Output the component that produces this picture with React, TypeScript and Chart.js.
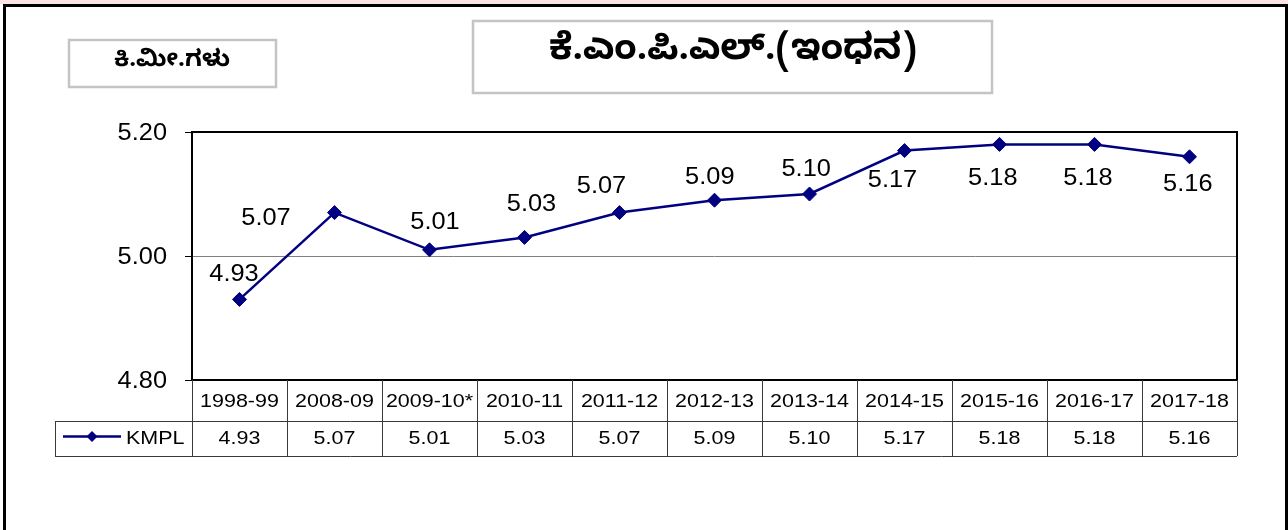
import React, { useEffect, useRef } from "react";
import { Chart, registerables } from "chart.js";

Chart.register(...registerables);

// ---- data ----
const categories = [
  "1998-99", "2008-09", "2009-10*", "2010-11", "2011-12", "2012-13",
  "2013-14", "2014-15", "2015-16", "2016-17", "2017-18",
];
const kmplValues = [4.93, 5.07, 5.01, 5.03, 5.07, 5.09, 5.1, 5.17, 5.18, 5.18, 5.16];
const seriesName = "KMPL";
const yMin = 4.8;
const yMax = 5.2;
const yStep = 0.2;
const titleText = "ಕೆ.ಎಂ.ಪಿ.ಎಲ್.(ಇಂಧನ)";
const unitText = "ಕಿ.ಮೀ.ಗಳು";
// manual data-label placement (px offset from each point), as in the original
const labelOffsets: number[][] = [
  [-5.5, -24.5], [-68.5, 5.5], [5.5, -27], [7, -33], [-18, -26], [-4.7, -23],
  [-3.3, -24.7], [-12, 29.7], [-6.7, 33.7], [-6.5, 33.8], [-1.7, 27.3],
];

// ---- style ----
const NAVY = "#000080";
const FONT = '"Liberation Sans", Arial, Helvetica, sans-serif';
const KN_FONT = '"Noto Sans Kannada", "Noto Serif Kannada", "Lohit Kannada", Tunga, "Noto Sans", sans-serif';
const W = 1288;
const H = 530;

function drawText(
  ctx: CanvasRenderingContext2D, text: string, x: number, y: number,
  size: number, sx: number, align: CanvasTextAlign = "center",
  weight = "normal", family = FONT
) {
  ctx.save();
  ctx.translate(x, y);
  ctx.scale(sx, 1);
  ctx.font = `${weight} ${size}px ${family}`;
  ctx.textAlign = align;
  ctx.textBaseline = "middle";
  ctx.fillStyle = "#000";
  ctx.fillText(text, 0, 0);
  ctx.restore();
}

function diamond(ctx: CanvasRenderingContext2D, x: number, y: number, r: number) {
  ctx.beginPath();
  ctx.moveTo(x - r, y);
  ctx.lineTo(x, y - r);
  ctx.lineTo(x + r, y);
  ctx.lineTo(x, y + r);
  ctx.closePath();
  ctx.fillStyle = NAVY;
  ctx.fill();
}

const decorPlugin = {
  id: "decor",
  beforeDraw(chart: any) {
    const ctx: CanvasRenderingContext2D = chart.ctx;
    ctx.save();
    ctx.fillStyle = "#ffffff";
    ctx.fillRect(0, 0, W, H);
    ctx.fillStyle = "#fce4e4";
    ctx.fillRect(0, 0, W, 4);
    // outer frame
    ctx.strokeStyle = "#000";
    ctx.lineWidth = 3;
    ctx.strokeRect(4.5, 5.5, W - 6, H + 50);
    // title box
    ctx.strokeStyle = "#c4c4c4";
    ctx.lineWidth = 2.5;
    ctx.strokeRect(473, 21, 519, 72);
    drawText(ctx, titleText, 733, 55, 36, 1.02, "center", "bold", KN_FONT);
    // unit box
    ctx.strokeRect(69, 40, 207, 47);
    drawText(ctx, unitText, 172, 64, 23, 1.05, "center", "bold", KN_FONT);
    ctx.restore();
  },
  beforeDatasetsDraw(chart: any) {
    const ctx: CanvasRenderingContext2D = chart.ctx;
    const a = chart.chartArea;
    ctx.save();
    ctx.strokeStyle = "#000";
    ctx.lineWidth = 2;
    ctx.strokeRect(a.left, a.top, a.right - a.left, a.bottom - a.top);
    ctx.restore();
  },
  afterDatasetsDraw(chart: any) {
    const ctx: CanvasRenderingContext2D = chart.ctx;
    const meta = chart.getDatasetMeta(0);
    meta.data.forEach((pt: any, i: number) => {
      const off = labelOffsets[i] || [0, -24];
      drawText(ctx, kmplValues[i].toFixed(2), pt.x + off[0], pt.y + off[1], 23.5, 1.08);
    });
  },
  afterDraw(chart: any) {
    const ctx: CanvasRenderingContext2D = chart.ctx;
    const a = chart.chartArea;
    const xs = chart.scales.x;
    const ys = chart.scales.y;
    // y tick labels
    ys.ticks.forEach((t: any) => {
      const y = ys.getPixelForValue(t.value);
      drawText(ctx, Number(t.value).toFixed(2), a.left - 25, y + 1.5, 23.5, 1.08, "right");
    });
    // data table
    const top = a.bottom;
    const mid = top + 41;
    const bot = mid + 35;
    const legendLeft = 55;
    const bounds: number[] = [a.left];
    for (let i = 0; i < categories.length - 1; i++) {
      bounds.push((xs.getPixelForValue(i) + xs.getPixelForValue(i + 1)) / 2);
    }
    bounds.push(a.right);
    ctx.save();
    ctx.strokeStyle = "#3a3a3a";
    ctx.lineWidth = 1;
    ctx.beginPath();
    bounds.forEach((b) => {
      const bx = Math.round(b) + 0.5;
      ctx.moveTo(bx, top);
      ctx.lineTo(bx, bot);
    });
    ctx.moveTo(legendLeft, mid + 0.5);
    ctx.lineTo(a.right, mid + 0.5);
    ctx.moveTo(legendLeft, bot + 0.5);
    ctx.lineTo(a.right, bot + 0.5);
    ctx.moveTo(legendLeft + 0.5, mid);
    ctx.lineTo(legendLeft + 0.5, bot);
    ctx.stroke();
    ctx.restore();
    categories.forEach((c, i) => {
      const cx = xs.getPixelForValue(i);
      drawText(ctx, c, cx, (top + mid) / 2 + 1, 19, 1.13);
      drawText(ctx, kmplValues[i].toFixed(2), cx, (mid + bot) / 2, 19, 1.13);
    });
    // legend key
    const ly = (mid + bot) / 2 - 2;
    ctx.save();
    ctx.strokeStyle = NAVY;
    ctx.lineWidth = 2.5;
    ctx.beginPath();
    ctx.moveTo(63, ly);
    ctx.lineTo(121, ly);
    ctx.stroke();
    diamond(ctx, 92, ly, 5.5);
    ctx.restore();
    drawText(ctx, seriesName, 126, (mid + bot) / 2, 19, 1.13, "left");
  },
};

export default function App() {
  const ref = useRef<HTMLCanvasElement | null>(null);
  useEffect(() => {
    if (!ref.current) return;
    const chart = new Chart(ref.current, {
      type: "line",
      data: {
        labels: categories,
        datasets: [
          {
            label: seriesName,
            data: kmplValues,
            borderColor: NAVY,
            backgroundColor: NAVY,
            borderWidth: 2.5,
            pointStyle: "rectRot",
            pointRadius: 7,
            pointHoverRadius: 7,
            pointBackgroundColor: NAVY,
            pointBorderColor: NAVY,
            pointBorderWidth: 1,
            tension: 0,
          },
        ],
      },
      options: {
        responsive: false,
        animation: false,
        devicePixelRatio: 1,
        layout: { padding: { left: 0, top: 132, right: 51, bottom: 150 } },
        plugins: {
          legend: { display: false },
          tooltip: { enabled: false },
          title: { display: false },
        },
        scales: {
          x: {
            type: "category",
            offset: true,
            display: false,
          },
          y: {
            min: yMin,
            max: yMax,
            ticks: { stepSize: yStep, display: false },
            border: { display: false },
            grid: {
              color: (c: any) =>
                c.tick && Math.abs(c.tick.value - 5) < 1e-6 ? "#808080" : "rgba(0,0,0,0)",
              lineWidth: 1,
              drawTicks: true,
              tickLength: 7,
              tickColor: "#000",
              tickWidth: 1,
            },
            afterFit: (s: any) => {
              s.width = 192;
            },
          },
        },
      },
      plugins: [decorPlugin],
    });
    return () => chart.destroy();
  }, []);
  return (
    <div style={{ position: "absolute", left: 0, top: 0, width: W, height: H, background: "#fff" }}>
      <canvas ref={ref} width={W} height={H} style={{ width: W, height: H, display: "block" }} />
    </div>
  );
}
